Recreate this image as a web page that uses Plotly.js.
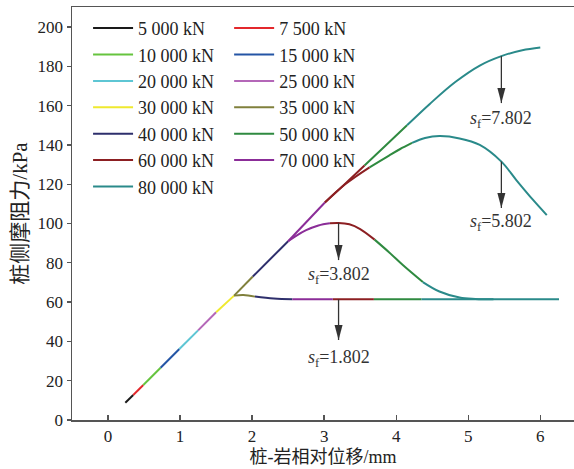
<!DOCTYPE html>
<html>
<head>
<meta charset="utf-8">
<script src="https://cdn.plot.ly/plotly-3.0.1.min.js"></script>
<style>
  html, body { margin: 0; padding: 0; background: #fff; }
  #chart { width: 574px; height: 469px; }
</style>
</head>
<body>
<div id="chart"></div>
<script>
// Pile-rock interface: side friction vs. relative displacement for each load step.
// Each load step is a set of segments (null separates branches).
const loadLabels = ['5 000 kN', '7 500 kN', '10 000 kN', '15 000 kN', '20 000 kN', '25 000 kN',
  '30 000 kN', '35 000 kN', '40 000 kN', '50 000 kN', '60 000 kN', '70 000 kN', '80 000 kN'];
const lineColors = ['#1a1a1a', '#e3282c', '#66c43f', '#2455a5', '#5ec6d4', '#b467b8',
  '#efe92f', '#80803c', '#2e2f6c', '#2f8a40', '#8c1f22', '#8b2d98', '#2a8a8a'];

const s5000 = [0.24, 0.35];
const f5000 = [8.8, 12.7];
const s7500 = [0.35, 0.49];
const f7500 = [12.7, 17.8];
const s10000 = [0.49, 0.73];
const f10000 = [17.8, 26.6];
const s15000 = [0.73, 0.99];
const f15000 = [26.6, 36.1];
const s20000 = [0.99, 1.25];
const f20000 = [36.1, 45.6];
const s25000 = [1.25, 1.50];
const f25000 = [45.6, 54.8];
const s30000 = [1.50, 1.75];
const f30000 = [54.8, 63.3];
const s35000 = [1.75, 2.01, null, 1.75, 1.88, 2.04];
const f35000 = [63.3, 73.0, null, 63.3, 63.6, 62.8];
const s40000 = [2.01, 2.50, null, 2.04, 2.30, 2.56];
const f40000 = [73.0, 91.0, null, 62.8, 61.8, 61.4];
const s50000 = [3.56, 3.85, 4.15, null, 3.63, 3.90, 4.05, 4.22, null, 3.70, 3.90, 4.10, 4.37, null, 3.69, 4.35];
const f50000 = [129.5, 139.6, 150.0, null, 128.6, 134.6, 137.8, 141.0, null, 91.8, 85.4, 78.6, 70.2, null, 61.4, 61.4];
const s60000 = [3.01, 3.30, 3.56, null, 3.01, 3.30, 3.63, null, 3.08, 3.20, 3.35, 3.50, 3.70, null, 3.12, 3.69];
const f60000 = [110.7, 120.5, 129.5, null, 110.7, 120.2, 128.6, null, 100.1, 100.3, 99.6, 97.2, 91.8, null, 61.4, 61.4];
const s70000 = [2.50, 3.01, null, 2.50, 2.60, 2.75, 2.92, 3.08, null, 2.56, 3.12];
const f70000 = [91.0, 110.7, null, 91.0, 93.5, 96.6, 99.0, 100.1, null, 61.4, 61.4];
const s80000 = [4.15, 4.47, 4.82, 5.16, 5.46, 5.75, 6.00, null,
  4.22, 4.40, 4.60, 4.88, 5.16, 5.46, 5.67, 5.90, 6.09, null,
  4.37, 4.60, 4.88, 5.10, 5.35, null, 4.35, 6.26];
const f80000 = [150.0, 161.0, 172.0, 180.4, 185.2, 188.2, 189.6, null,
  141.0, 143.5, 144.5, 143.3, 140.0, 131.5, 122.0, 112.0, 104.3, null,
  70.2, 65.4, 62.3, 61.6, 61.4, null, 61.4, 61.4];

const dispSets = [s5000, s7500, s10000, s15000, s20000, s25000, s30000, s35000, s40000, s50000, s60000, s70000, s80000];
const fricSets = [f5000, f7500, f10000, f15000, f20000, f25000, f30000, f35000, f40000, f50000, f60000, f70000, f80000];
// first legend column holds entries 0,2,4,...; second column 1,3,5,...
const legendColumn = ['legend', 'legend2', 'legend', 'legend2', 'legend', 'legend2', 'legend',
  'legend2', 'legend', 'legend2', 'legend', 'legend2', 'legend'];

// softening-displacement markers
const sfText = ['7.802', '5.802', '3.802', '1.802'];
const sfArrowX = [5.46, 5.46, 3.20, 3.20];
const sfArrowFrom = [185.2, 131.5, 100.3, 61.4];
const sfArrowTo = [161.3, 107.9, 81.4, 40.7];
const sfLabelY = [153.0, 100.3, 73.8, 31.2];

const serif = 'Liberation Serif, Times New Roman, Noto Sans CJK SC, serif';
const cjk = 'Liberation Serif, Noto Sans CJK SC, serif';

const traces = loadLabels.map((name, i) => ({
  type: 'scatter',
  mode: 'lines',
  name: name,
  x: dispSets[i],
  y: fricSets[i],
  connectgaps: false,
  line: { color: lineColors[i], width: 2, shape: 'spline', smoothing: 1 },
  legend: legendColumn[i],
  hoverinfo: 'skip'
}));

const shapes = [];
const annotations = [];
sfText.forEach((t, i) => {
  shapes.push({
    type: 'line', xref: 'x', yref: 'y',
    x0: sfArrowX[i], x1: sfArrowX[i], y0: sfArrowFrom[i], y1: sfArrowTo[i],
    line: { color: '#333', width: 1.3 }
  });
  shapes.push({
    type: 'path', xref: 'x', yref: 'y',
    xsizemode: 'pixel', ysizemode: 'pixel',
    xanchor: sfArrowX[i], yanchor: sfArrowTo[i],
    path: 'M0,0 L-4,15 L4,15 Z',
    fillcolor: '#333', line: { width: 0 }
  });
  annotations.push({
    xref: 'x', yref: 'y', x: sfArrowX[i], y: sfLabelY[i],
    text: '<i>s</i><sub>f</sub>=' + t, showarrow: false,
    xanchor: 'center', yanchor: 'middle',
    font: { family: serif, size: 18, color: '#333' }
  });
});

const legendBase = {
  xref: 'paper', yref: 'paper', xanchor: 'left', yanchor: 'top',
  bgcolor: 'rgba(0,0,0,0)', borderwidth: 0, itemwidth: 40, tracegroupgap: 0,
  font: { family: serif, size: 18, color: '#222' }
};

const layout = {
  width: 574, height: 469,
  margin: { l: 72, r: 0, t: 7, b: 49 },
  paper_bgcolor: '#fff', plot_bgcolor: '#fff',
  showlegend: true,
  legend: Object.assign({}, legendBase, { x: 0.032, y: 0.993 }),
  legend2: Object.assign({}, legendBase, { x: 0.313, y: 0.993 }),
  xaxis: {
    range: [-0.5, 6.468],
    tickvals: [0, 1, 2, 3, 4, 5, 6],
    ticks: 'inside', ticklen: 5, tickwidth: 1.3, tickcolor: '#555',
    showline: true, linecolor: '#555', linewidth: 1.5, mirror: true,
    showgrid: false, zeroline: false,
    tickfont: { family: serif, size: 17, color: '#222' },
    title: { text: '桩-岩相对位移/mm', font: { family: cjk, size: 18, color: '#222' }, standoff: 5 }
  },
  yaxis: {
    range: [0, 210.2],
    tickvals: [0, 20, 40, 60, 80, 100, 120, 140, 160, 180, 200],
    ticks: 'outside', ticklen: 4, tickwidth: 1.3, tickcolor: '#555',
    showline: true, linecolor: '#555', linewidth: 1.5, mirror: true,
    showgrid: false, zeroline: false,
    tickfont: { family: serif, size: 17, color: '#222' },
    title: { text: '桩侧摩阻力/kPa', font: { family: cjk, size: 21, color: '#222' }, standoff: 4 }
  },
  shapes: shapes,
  annotations: annotations
};

Plotly.newPlot('chart', traces, layout, { staticPlot: true, displayModeBar: false });
</script>
</body>
</html>
